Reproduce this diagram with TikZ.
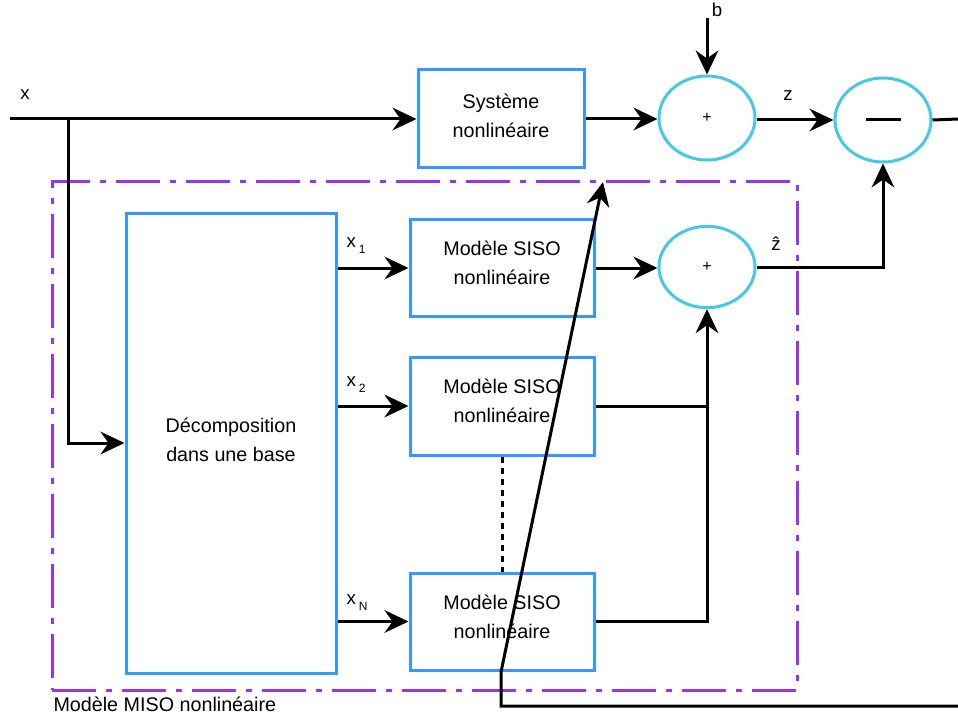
\documentclass[tikz,border=0pt]{standalone}
\usepackage{fontspec}
\setmainfont{Liberation Sans}
\usetikzlibrary{arrows.meta,shapes.geometric,calc}
\definecolor{boxblue}{RGB}{51,153,255}
\definecolor{ringcyan}{RGB}{70,200,232}
\definecolor{misopurple}{RGB}{153,51,238}
\begin{document}
\begin{tikzpicture}[x=0.75pt,y=-0.75pt,
  line width=2.25pt,
  txt/.style={font=\fontsize{14.8}{21.5}\selectfont,align=center},
  lab/.style={font=\fontsize{14}{16}\selectfont,inner sep=0pt},
  blk/.style={draw=boxblue,txt,inner sep=0pt},
  ring/.style={ellipse,draw=ringcyan,inner sep=0pt,minimum width=72pt,minimum height=63pt,font=\fontsize{12}{12}\selectfont},
  arr/.style={-{Stealth[length=18pt,width=17pt,inset=6pt]}},
  mdash/.style={draw=misopurple,dash pattern=on 33pt off 7.5pt on 4.5pt off 7.5pt}
]
\useasboundingbox (0,0) rectangle (958,717);
% frame
\node[mdash,minimum width=558.75pt,minimum height=381pt,inner sep=0pt] (miso) at (424.5,436) {};
\node[font=\fontsize{14.8}{16}\selectfont,inner sep=0pt,anchor=west] (misolab) at (52,704) {Modèle MISO nonlinéaire};
% blocks
\node[blk,minimum width=124.5pt,minimum height=73.5pt] (sys) at (501,119) {};
\node[txt] (systxt) at (501,116) {Système\\nonlinéaire};
\node[blk,minimum width=157.5pt,minimum height=345pt] (dec) at (231,443) {};
\node[txt] (dectxt) at (231,440) {Décomposition\\dans une base};
\node[blk,minimum width=138pt,minimum height=72.75pt] (s1) at (502,268) {};
\node[txt] (s1txt) at (502,263) {Modèle SISO\\nonlinéaire};
\node[blk,minimum width=138pt,minimum height=73.5pt] (s2) at (502,406) {};
\node[txt] (s2txt) at (502,401) {Modèle SISO\\nonlinéaire};
\node[blk,minimum width=138pt,minimum height=72.75pt] (s3) at (502,621.5) {};
\node[txt] (s3txt) at (502,617) {Modèle SISO\\nonlinéaire};
% rings
\node[ring] (c1) at (707,118) {+};
\node[ring,minimum height=61pt] (c3) at (707,267) {+};
\node[ring] (c2) at (883,120) {\rule{26.25pt}{2.25pt}};
% labels
\node[lab] (lx) at (25,95) {x};
\node[lab] (lb) at (717,10) {b};
\node[lab] (lz) at (788,96) {z};
\node[lab] (lzh) at (776,244) {\^{z}};
\node[lab,anchor=west] (lx1) at (345,246) {x\,\raisebox{-0.6ex}{\fontsize{9}{10}\selectfont 1}};
\node[lab,anchor=west] (lx2) at (345,385) {x\,\raisebox{-0.6ex}{\fontsize{9}{10}\selectfont 2}};
\node[lab,anchor=west] (lxn) at (345,603) {x\,\raisebox{-0.6ex}{\fontsize{9}{10}\selectfont N}};
% coordinates
\coordinate (xin) at (10,119);
\coordinate (br) at (68,119);
\coordinate (bt) at (707,18);
\coordinate (out) at (958,119);
\coordinate (e1) at (958,706);
\coordinate (e2) at (501,706);
\coordinate (e3) at (501,672);
\coordinate (e4) at (603,182);
% connectors
\draw[arr] (xin) -- (sys.west);
\draw[arr] (br) |- (dec.west);
\draw[arr] (sys.east) -- (sys.east -| c1.west);
\draw[arr] (bt) -- (c1.north);
\draw[arr] (c1.east |- c2) -- (c2.west);
\draw (c2.east) -- (out);
\draw[arr] (dec.east |- s1) -- (s1.west);
\draw[arr] (dec.east |- s2) -- (s2.west);
\draw[arr] (dec.east |- s3) -- (s3.west);
\draw[arr] (s1.east) -- (s1.east -| c3.west);
\draw (s2.east) -- (s2.east -| c3.south);
\draw[arr] (s3.east) -| (c3.south);
\draw[dash pattern=on 4.5pt off 3.75pt] (s2.south) -- (s3.north);
\draw[arr] (c3.east) -| (c2.south);
\draw[arr] (e1) -- (e2) -- (e3) -- (e4);
\end{tikzpicture}
\end{document}
